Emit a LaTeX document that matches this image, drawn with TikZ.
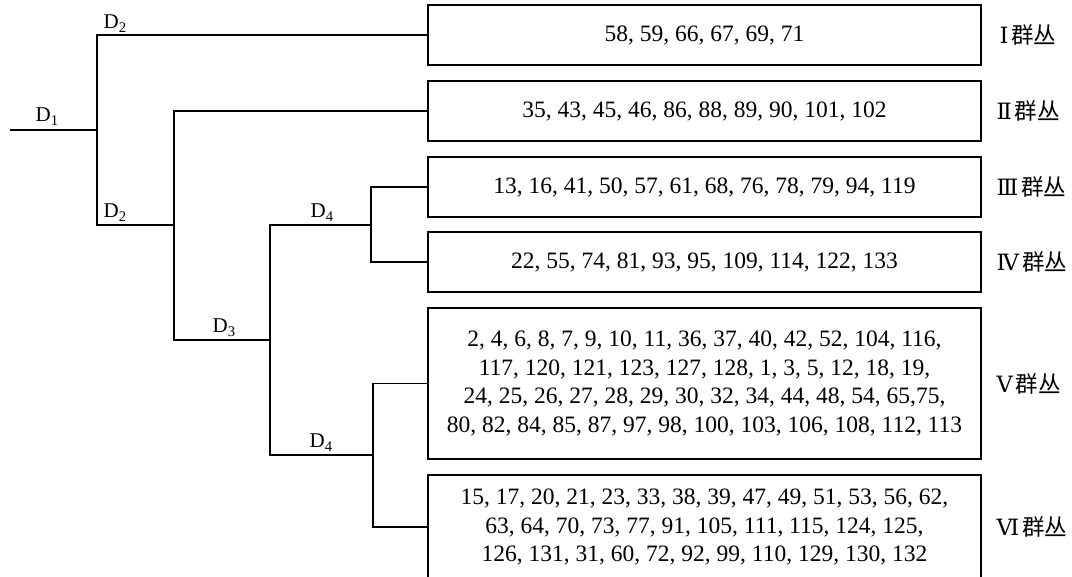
\documentclass[tikz,border=0pt]{standalone}
\usepackage{fontspec}
\setmainfont{Liberation Serif}
\newfontfamily\cjk{Noto Sans CJK SC}
\newfontfamily\romnum{DejaVu Serif}
\newcommand{\rnum}[1]{{\romnum #1}\kern3pt}
\begin{document}
\begin{tikzpicture}[x=1pt,y=-1pt,line width=1.2pt,
  grp/.style={draw,rectangle,minimum width=553pt,inner sep=0pt,align=center,
    font=\fontsize{23.5}{28.5}\selectfont},
  dlab/.style={anchor=base west,inner sep=0pt,font=\fontsize{21}{24}\selectfont},
  clab/.style={anchor=west,inner sep=0pt,font=\cjk\fontsize{22.5}{26}\selectfont}]
\useasboundingbox (0,0) rectangle (1072,577);
\clip (0,0) rectangle (1072,577);
% boxes
\node[grp,minimum height=60pt] (b1) at (704.5,35) {58, 59, 66, 67, 69, 71};
\node[grp,minimum height=60pt] (b2) at (704.5,111) {35, 43, 45, 46, 86, 88, 89, 90, 101, 102};
\node[grp,minimum height=60pt] (b3) at (704.5,187) {13, 16, 41, 50, 57, 61, 68, 76, 78, 79, 94, 119};
\node[grp,minimum height=60pt] (b4) at (704.5,262) {22, 55, 74, 81, 93, 95, 109, 114, 122, 133};
\node[grp,minimum height=151pt] (b5) at (704.5,383.5) {2, 4, 6, 8, 7, 9, 10, 11, 36, 37, 40, 42, 52, 104, 116,\\
117, 120, 121, 123, 127, 128, 1, 3, 5, 12, 18, 19,\\
24, 25, 26, 27, 28, 29, 30, 32, 34, 44, 48, 54, 65,75,\\
80, 82, 84, 85, 87, 97, 98, 100, 103, 106, 108, 112, 113};
\node[grp,minimum height=104pt] (b6) at (704.5,527) {15, 17, 20, 21, 23, 33, 38, 39, 47, 49, 51, 53, 56, 62,\\
63, 64, 70, 73, 77, 91, 105, 111, 115, 124, 125,\\
126, 131, 31, 60, 72, 92, 99, 110, 129, 130, 132};
% tree junctions
\coordinate (r0) at (10,130);
\coordinate (n1) at (97,130);
\coordinate (n2) at (174,225);
\coordinate (n3) at (270,340);
\coordinate (n4a) at (371,225);
\coordinate (n4b) at (373,455);
\draw (r0) -- (n1);
\draw (n1) |- (b1.west);
\draw (n1) |- (n2);
\draw (n2) |- (b2.west);
\draw (n2) |- (n3);
\draw (n3) |- (n4a);
\draw (n3) |- (n4b);
\draw (n4a) |- (b3.west);
\draw (n4a) |- (b4.west);
\draw (n4b) |- (b5.west);
\draw (n4b) |- (b6.west);
% distance labels
\node[dlab] (d1) at (35,122) {D\textsubscript{1}};
\node[dlab] (d2a) at (103,29) {D\textsubscript{2}};
\node[dlab] (d2b) at (103,218) {D\textsubscript{2}};
\node[dlab] (d3) at (212,333) {D\textsubscript{3}};
\node[dlab] (d4a) at (310,218) {D\textsubscript{4}};
\node[dlab] (d4b) at (309,448) {D\textsubscript{4}};
% group labels
\node[clab] (g1) at (999,35) {\rnum{Ⅰ}群丛};
\node[clab] (g2) at (996,111) {\rnum{Ⅱ}群丛};
\node[clab] (g3) at (996,187) {\rnum{Ⅲ}群丛};
\node[clab] (g4) at (996,262) {\rnum{Ⅳ}群丛};
\node[clab] (g5) at (996,383.5) {\rnum{Ⅴ}群丛};
\node[clab] (g6) at (996,527) {\rnum{Ⅵ}群丛};
\end{tikzpicture}
\end{document}
